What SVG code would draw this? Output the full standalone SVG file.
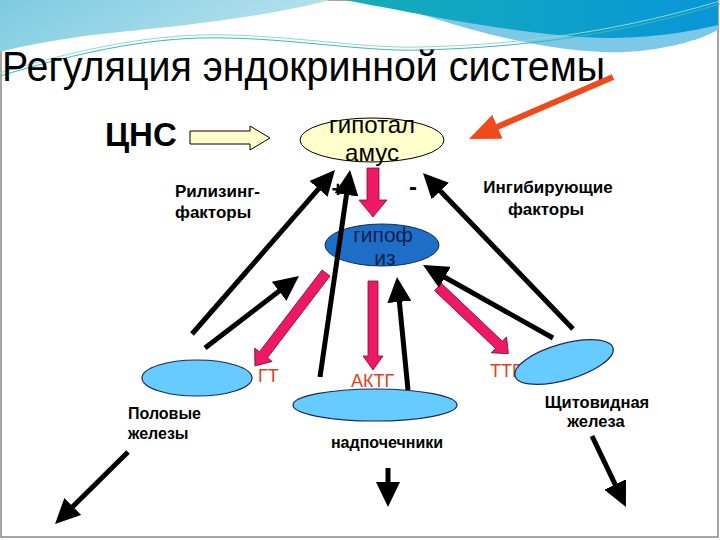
<svg xmlns="http://www.w3.org/2000/svg" width="720" height="540" viewBox="0 0 720 540">
<defs>
<style>
.t{font-family:"Liberation Sans",Arial,sans-serif}
.b{font-family:"Liberation Sans",Arial,sans-serif;font-weight:bold;fill:#000}
.hl{font-family:"Liberation Sans",Arial,sans-serif;fill:#e0401e}
.gland{fill:#66ccff;stroke:#1a2a5a;stroke-width:1.2}
.blk{stroke:#000;stroke-width:5;fill:none;marker-end:url(#ah)}
.pink{fill:#ee1866;stroke:#7a1030;stroke-width:0.8}
</style>
<linearGradient id="gl" x1="0" y1="0" x2="1" y2="0.3">
<stop offset="0" stop-color="#7ccbe0"/><stop offset="1" stop-color="#b8e2ee"/>
</linearGradient>
<linearGradient id="gr" x1="0" y1="0" x2="1" y2="0">
<stop offset="0" stop-color="#16adb8"/><stop offset="1" stop-color="#0896d8"/>
</linearGradient>
<marker id="ah" markerUnits="userSpaceOnUse" markerWidth="26" markerHeight="24" refX="1" refY="12" orient="auto" viewBox="0 0 26 24">
<path d="M0,0 L25,12 L0,24 Z" fill="#000"/>
</marker>
<marker id="aho" markerUnits="userSpaceOnUse" markerWidth="32" markerHeight="26" refX="1" refY="13" orient="auto" viewBox="0 0 32 26">
<path d="M0,0 L31,13 L0,26 Z" fill="#f04a1c"/>
</marker>
</defs>
<rect x="0" y="0" width="720" height="540" fill="#fff"/>
<rect x="1" y="0" width="717" height="537" fill="none" stroke="#888" stroke-width="1.5"/>
<g id="banner">
<path d="M0,0 L330,0 C 270,16 190,25 120,32 C 70,37 30,44 0,52 Z" fill="url(#gl)"/>
<path d="M420,14 C 500,40 570,54 625,52 C 665,50 700,40 718,30 L718,0 Z" fill="#7cc8e6"/>
<path d="M345,0 L718,0 L718,25 C 690,32 650,38 605,38 C 530,36 450,20 345,0 Z" fill="url(#gr)"/>
<path d="M0,76 C 60,58 130,40 200,38 C 280,36 360,52 420,50 C 500,48 600,40 720,4" fill="none" stroke="#3cb8b0" stroke-width="1"/>
<path d="M0,73 C 60,55 130,37 200,35 C 280,33 360,49 420,47 C 500,45 600,37 720,1" fill="none" stroke="#8fd8d0" stroke-width="1"/>
</g>
<text class="t" x="2" y="81" font-size="43" textLength="603" lengthAdjust="spacingAndGlyphs" fill="#000">Регуляция эндокринной системы</text>
<g id="labels">
<text class="b" x="105" y="146" font-size="33">ЦНС</text>
<text class="b" x="175" y="197" font-size="17">Рилизинг-</text>
<text class="b" x="175" y="218" font-size="17">факторы</text>
<text class="b" x="548" y="193" font-size="17" text-anchor="middle">Ингибирующие</text>
<text class="b" x="546" y="215" font-size="17" text-anchor="middle">факторы</text>
<text class="b" x="338" y="197" font-size="22" text-anchor="middle">+</text>
<text class="b" x="413" y="195" font-size="24" text-anchor="middle">-</text>
<text class="hl" x="258" y="382" font-size="18">ГТ</text>
<text class="hl" x="351" y="387" font-size="18">АКТГ</text>
<text class="hl" x="490" y="377" font-size="18">ТТГ</text>
</g>
<g id="hypothalamus">
<ellipse cx="372" cy="140" rx="72" ry="22" fill="#ffffcc" stroke="#000" stroke-width="1"/>
<text class="t" x="372" y="133" font-size="24" text-anchor="middle" fill="#000">гипотал</text>
<text class="t" x="372" y="161" font-size="24" text-anchor="middle" fill="#000">амус</text>
</g>
<g id="hypophysis">
<ellipse cx="382" cy="245" rx="57" ry="21" fill="#1e6ec8" stroke="#0a2a60" stroke-width="1"/>
<text class="t" x="383" y="242" font-size="21" text-anchor="middle" fill="#0a1f4d">гипоф</text>
<text class="t" x="385" y="265" font-size="21" text-anchor="middle" fill="#0a1f4d">из</text>
</g>
<g id="gonads">
<ellipse class="gland" cx="197" cy="378" rx="55" ry="18"/>
<text class="b" x="128" y="419" font-size="16">Половые</text>
<text class="b" x="128" y="439" font-size="16">железы</text>
</g>
<g id="adrenals">
<ellipse class="gland" cx="375" cy="405" rx="82" ry="16"/>
<text class="b" x="387" y="448" font-size="16" text-anchor="middle">надпочечники</text>
</g>
<g id="thyroid">
<ellipse class="gland" cx="564" cy="362" rx="51" ry="18" transform="rotate(-16 564 362)"/>
<text class="b" x="597" y="408" font-size="16.5" text-anchor="middle">Щитовидная</text>
<text class="b" x="596" y="427" font-size="16.5" text-anchor="middle">железа</text>
</g>
<g id="connectors">
<path d="M190,131 L250,131 L250,126 L270,138 L250,150 L250,144 L190,144 Z" fill="#ffffcc" stroke="#000" stroke-width="1"/>
<line x1="613" y1="77" x2="496.5" y2="127.2" stroke="#f04a1c" stroke-width="6" marker-end="url(#aho)"/>
<path class="pink" stroke="none" d="M0,-6 L32,-6 L32,-14 L49,0 L32,14 L32,6 L0,6 Z" transform="translate(373 168) rotate(90)"/>
<path class="pink" d="M0,-5 L103,-5 L103,-11 L117,0 L103,11 L103,5 L0,5 Z" transform="translate(326 273) rotate(127.4)"/>
<path class="pink" d="M0,-5 L75,-5 L75,-10 L89,0 L75,10 L75,5 L0,5 Z" transform="translate(373 281) rotate(90)"/>
<path class="pink" d="M0,-5 L84,-5 L84,-11 L97,0 L84,11 L84,5 L0,5 Z" transform="translate(438 287) rotate(43.5)"/>
<line class="blk" x1="192" y1="334" x2="319.2" y2="188.1"/>
<line class="blk" x1="320" y1="377" x2="346.6" y2="193.8"/>
<line class="blk" x1="205" y1="348" x2="279.9" y2="290.6"/>
<line class="blk" x1="408" y1="390" x2="399.3" y2="300.9"/>
<line class="blk" x1="553" y1="338" x2="443.9" y2="276.8"/>
<line class="blk" x1="573" y1="329" x2="439.6" y2="190.3"/>
<line class="blk" x1="128" y1="452" x2="72.1" y2="507.2"/>
<line class="blk" x1="388" y1="468" x2="388" y2="483"/>
<line class="blk" x1="592" y1="436" x2="615.6" y2="485.4"/>
</g>
</svg>
